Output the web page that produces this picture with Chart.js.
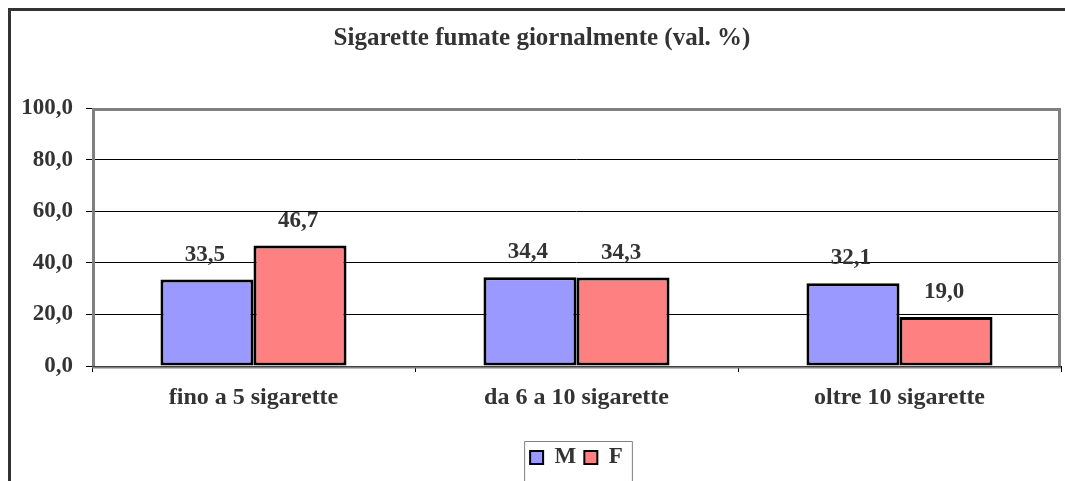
<!DOCTYPE html>
<html>
<head>
<meta charset="utf-8">
<style>
  html, body { margin: 0; padding: 0; background: #fff; }
  #wrap { width: 1065px; height: 481px; }
</style>
<script src="https://cdn.jsdelivr.net/npm/chart.js@4/dist/chart.umd.min.js"></script>
</head>
<body>
<div id="wrap"><canvas id="sigChart" width="1065" height="481"></canvas></div>
<script>
const categories = ['fino a 5 sigarette', 'da 6 a 10 sigarette', 'oltre 10 sigarette'];
const maschi = [33.5, 34.4, 32.1];
const femmine = [46.7, 34.3, 19.0];
const yTicks = [0, 20, 40, 60, 80, 100];

const FONT = 'Liberation Serif, Times New Roman, serif';
const TEXT = '#333333';

function fmt(v) {
    return v.toFixed(1).replace('.', ',');
}

// frame, title, plot border and the value labels over the bars
const decorations = {
    id: 'decorations',
    afterDatasetsDraw(chart) {
        const ctx = chart.ctx;
        ctx.save();
        ctx.fillStyle = TEXT;
        ctx.font = 'bold 23px ' + FONT;
        ctx.textAlign = 'center';
        ctx.textBaseline = 'alphabetic';
        chart.data.datasets.forEach((ds, i) => {
            chart.getDatasetMeta(i).data.forEach((bar, j) => {
                ctx.fillText(fmt(ds.data[j]), bar.x - 2, bar.y - 19);
            });
        });
        ctx.restore();
    },
    afterDraw(chart) {
        const ctx = chart.ctx;
        const a = chart.chartArea;
        ctx.save();

        // outer frame
        ctx.strokeStyle = '#333333';
        ctx.lineWidth = 3;
        ctx.beginPath();
        ctx.moveTo(9.5, 490);
        ctx.lineTo(9.5, 9.5);
        ctx.lineTo(1080, 9.5);
        ctx.stroke();

        // plot border
        ctx.strokeStyle = '#808080';
        ctx.lineWidth = 3;
        ctx.beginPath();
        ctx.moveTo(a.left + 1.5, a.bottom);
        ctx.lineTo(a.left + 1.5, a.top + 1.5);
        ctx.lineTo(a.right - 1.5, a.top + 1.5);
        ctx.lineTo(a.right - 1.5, a.bottom);
        ctx.stroke();
        ctx.lineWidth = 2;
        ctx.beginPath();
        ctx.moveTo(a.left, a.bottom + 1.5);
        ctx.lineTo(a.right, a.bottom + 1.5);
        ctx.stroke();

        // title
        ctx.fillStyle = TEXT;
        ctx.font = 'bold 25px ' + FONT;
        ctx.textAlign = 'center';
        ctx.textBaseline = 'middle';
        ctx.fillText('Sigarette fumate giornalmente (val. %)', 542, 39);

        // box round the legend
        const boxes = chart.legend.legendHitBoxes;
        if (boxes && boxes.length) {
            const first = boxes[0];
            const last = boxes[boxes.length - 1];
            ctx.strokeStyle = '#808080';
            ctx.lineWidth = 1;
            ctx.beginPath();
            ctx.moveTo(first.left - 5.5, 500);
            ctx.lineTo(first.left - 5.5, 441.5);
            ctx.lineTo(last.left + last.width + 9.5, 441.5);
            ctx.lineTo(last.left + last.width + 9.5, 500);
            ctx.stroke();
        }
        ctx.restore();
    }
};

new Chart(document.getElementById('sigChart'), {
    type: 'bar',
    data: {
        labels: categories,
        datasets: [{
            label: 'M',
            data: maschi,
            backgroundColor: '#9999FF',
            borderColor: '#000000',
            borderWidth: 3,
            borderSkipped: false
        }, {
            label: 'F',
            data: femmine,
            backgroundColor: '#FF8080',
            borderColor: '#000000',
            borderWidth: 3,
            borderSkipped: false
        }]
    },
    options: {
        responsive: false,
        animation: false,
        layout: {
            padding: { left: 0, top: 108, right: 4, bottom: 2 }
        },
        datasets: {
            bar: { barPercentage: 1, categoryPercentage: 0.576 }
        },
        scales: {
            x: {
                afterFit(scale) { scale.height = 72; },
                grid: {
                    drawOnChartArea: false,
                    drawTicks: true,
                    tickLength: 6,
                    color: '#000000'
                },
                border: { display: true, color: '#000000', width: 1 },
                ticks: {
                    color: TEXT,
                    padding: 11,
                    font: { family: FONT, size: 24, weight: 'bold' }
                }
            },
            y: {
                min: 0,
                max: 100,
                afterFit(scale) { scale.width = 92; },
                afterBuildTicks(scale) {
                    scale.ticks = yTicks.map(v => ({ value: v }));
                },
                grid: {
                    color: '#000000',
                    lineWidth: 1,
                    tickLength: 6
                },
                border: { display: false },
                ticks: {
                    color: TEXT,
                    padding: 13,
                    font: { family: FONT, size: 23, weight: 'bold' },
                    callback: v => fmt(v)
                }
            }
        },
        plugins: {
            title: { display: false },
            tooltip: { enabled: false },
            legend: {
                position: 'bottom',
                fullSize: false,
                labels: {
                    color: TEXT,
                    boxWidth: 13,
                    boxHeight: 13,
                    padding: 8,
                    font: { family: FONT, size: 23, weight: 'bold' },
                    generateLabels(chart) {
                        return chart.data.datasets.map((ds, i) => ({
                            text: ds.label,
                            fillStyle: ds.backgroundColor,
                            strokeStyle: '#000000',
                            lineWidth: 2,
                            fontColor: TEXT,
                            datasetIndex: i
                        }));
                    }
                }
            }
        }
    },
    plugins: [decorations]
});
</script>
</body>
</html>
